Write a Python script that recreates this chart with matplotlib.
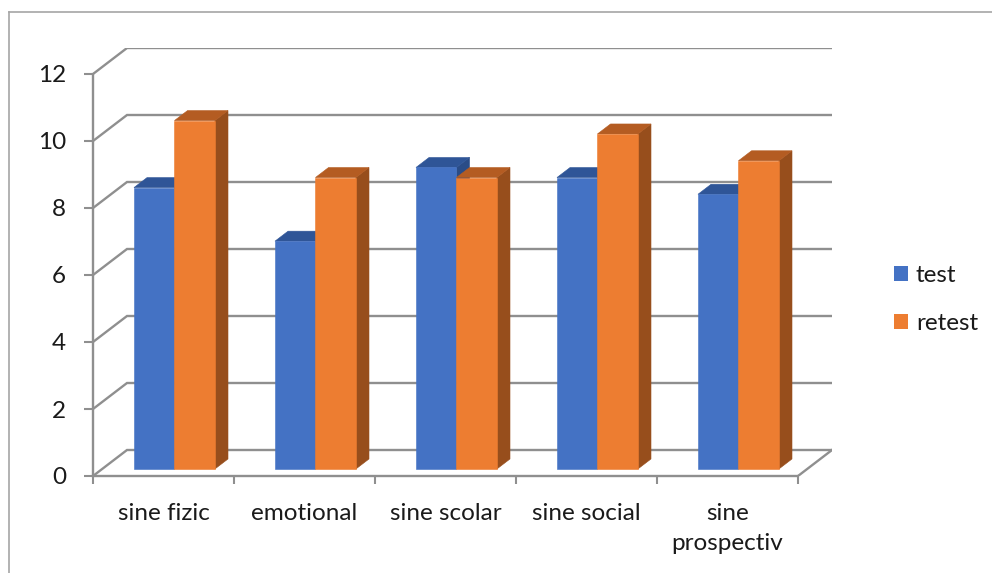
import matplotlib
matplotlib.use("Agg")
import matplotlib.pyplot as plt
from matplotlib.patches import Polygon, Patch
from matplotlib.lines import Line2D

plt.rcParams['font.family'] = ['Lato', 'DejaVu Sans']

# ---- data ----
categories = ["sine fizic", "emotional", "sine scolar", "sine social", "sine\nprospectiv"]
series_names = ["test", "retest"]
test_values = [8.4, 6.8, 9.0, 8.7, 8.2]
retest_values = [10.4, 8.7, 8.7, 10.0, 9.2]
y_ticks = [0, 2, 4, 6, 8, 10, 12]

# ---- style ----
face_colors = ["#4472C4", "#ED7D31"]
top_colors = ["#2F5597", "#B45C22"]
side_colors = ["#2A4C87", "#974E1C"]
grid_color = "#8f8f8f"
text_color = "#1a1a1a"
FS = 17.5

# oblique projection: depth fraction d in [0,1] shifts right and up
DX = 34 / 141      # category units per full depth
DY = 26 / 33.5     # value units per full depth
BAR_W = 0.287
GROUP_OFFSET = 0.2255
D_FRONT, D_BACK = 0.27, 0.655


def proj(x, y, d):
    return (x + d * DX, y + d * DY)


W, H = 992, 573
fig = plt.figure(figsize=(W / 100, H / 100), dpi=100)
ncat = len(categories)
ymax = y_ticks[-1]

left_px, right_px = 93, 832
bottom_px = 476
top_px = bottom_px - (ymax + DY) * 33.5
ax = fig.add_axes([left_px / W, (H - bottom_px) / H,
                   (right_px - left_px) / W, (bottom_px - top_px) / H])
ax.set_xlim(0, ncat + DX)
ax.set_ylim(0, ymax + DY)

# back-wall gridlines and their diagonal links to the front value axis
for v in y_ticks:
    xs, ys = zip(proj(0, v, 0), proj(0, v, 1), proj(ncat, v, 1))
    ax.plot(xs, ys, color=grid_color, lw=1.7, solid_capstyle='butt',
            solid_joinstyle='miter', zorder=1)
# floor right edge
xs, ys = zip(proj(ncat, 0, 0), proj(ncat, 0, 1))
ax.plot(xs, ys, color=grid_color, lw=1.7, zorder=1)

# bars
for i in range(ncat):
    for s, vals in enumerate([test_values, retest_values]):
        h = vals[i]
        x0 = i + GROUP_OFFSET + s * BAR_W
        x1 = x0 + BAR_W
        front = [proj(x0, 0, D_FRONT), proj(x1, 0, D_FRONT),
                 proj(x1, h, D_FRONT), proj(x0, h, D_FRONT)]
        top = [proj(x0, h, D_FRONT), proj(x1, h, D_FRONT),
               proj(x1, h, D_BACK), proj(x0, h, D_BACK)]
        side = [proj(x1, 0, D_FRONT), proj(x1, 0, D_BACK),
                proj(x1, h, D_BACK), proj(x1, h, D_FRONT)]
        for poly, c in ((side, side_colors[s]), (top, top_colors[s]),
                        (front, face_colors[s])):
            ax.add_patch(Polygon(poly, closed=True, facecolor=c,
                                 edgecolor=c, lw=0.4, zorder=2))

# front axes
for side in ("top", "right"):
    ax.spines[side].set_visible(False)
ax.spines["left"].set_bounds(0, ymax)
ax.spines["bottom"].set_bounds(0, ncat)
for side in ("left", "bottom"):
    ax.spines[side].set_color(grid_color)
    ax.spines[side].set_linewidth(1.7)
ax.spines["left"].set_zorder(3)
ax.spines["bottom"].set_zorder(3)

ax.set_yticks(y_ticks)
ax.set_yticklabels([str(v) for v in y_ticks])
ax.tick_params(axis='y', length=6.5, width=1.5, color=grid_color,
               pad=13, labelsize=FS, labelcolor=text_color)

ax.set_xticks(range(ncat + 1))
ax.set_xticklabels([])
ax.set_xticks([i + 0.5 for i in range(ncat)], minor=True)
ax.set_xticklabels(categories, minor=True, linespacing=1.55)
ax.tick_params(axis='x', which='major', length=5.5, width=1.5, color=grid_color)
ax.tick_params(axis='x', which='minor', length=0, pad=19.5,
               labelsize=FS, labelcolor=text_color)

# legend
handles = [Patch(facecolor=c, edgecolor='none') for c in face_colors]
fig.legend(handles, series_names, loc='center left',
           bbox_to_anchor=(884 / W, 1 - 299.5 / H), frameon=False,
           fontsize=FS, handlelength=0.58, handleheight=0.58,
           handletextpad=0.33, labelspacing=1.12, borderaxespad=0,
           labelcolor=text_color)

# outer frame (top and left edges)
fig.add_artist(Line2D([9 / W, 1], [1 - 12 / H, 1 - 12 / H],
                      transform=fig.transFigure, color="#a6a6a6", lw=1.2))
fig.add_artist(Line2D([9 / W, 9 / W], [0, 1 - 12 / H],
                      transform=fig.transFigure, color="#a6a6a6", lw=1.2))

fig.savefig("out.png", dpi=100)
